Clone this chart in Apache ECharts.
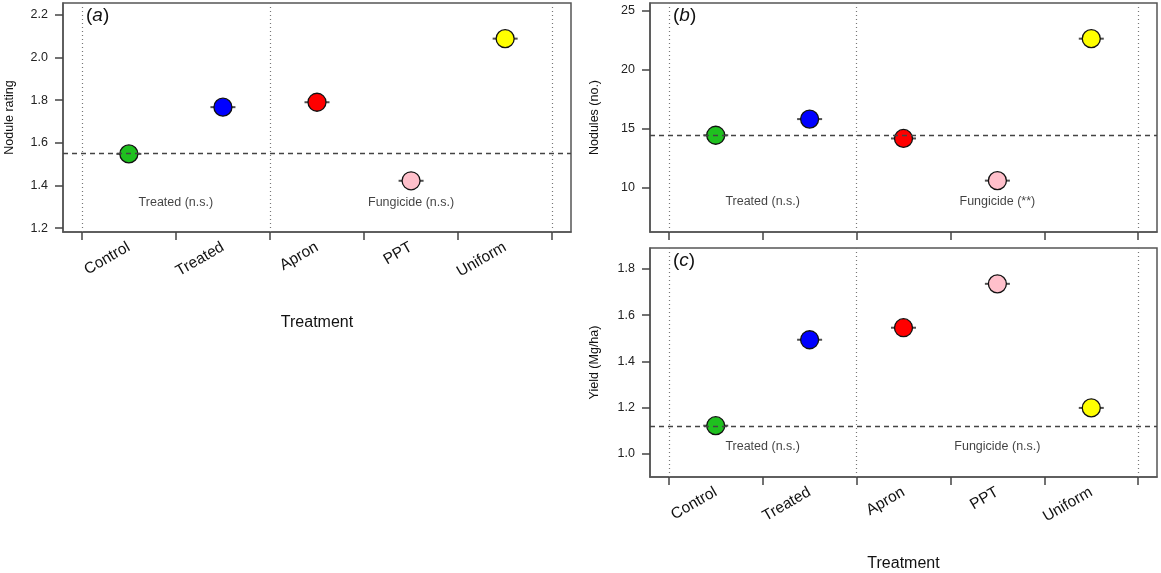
<!DOCTYPE html>
<html>
<head>
<meta charset="utf-8">
<script src="https://cdn.jsdelivr.net/npm/echarts@6/dist/echarts.min.js"></script>
<style>
html,body{margin:0;padding:0;background:#fff;}
#chart{width:1161px;height:573px;}
</style>
</head>
<body>
<div id="chart"></div>
<script>
// ---- data ----
var categories = ['Control', 'Treated', 'Apron', 'PPT', 'Uniform'];
var noduleRating = [1.548, 1.767, 1.790, 1.422, 2.088];
var noduleCount = [14.42, 15.79, 14.15, 10.58, 22.60];
var yieldMgHa = [1.122, 1.494, 1.546, 1.736, 1.199];
var ticksA = [1.2, 1.4, 1.6, 1.8, 2.0, 2.2];
var ticksB = [10, 15, 20, 25];
var ticksC = [1.0, 1.2, 1.4, 1.6, 1.8];
var notesA = ['Treated (n.s.)', 'Fungicide (n.s.)'];
var notesB = ['Treated (n.s.)', 'Fungicide (**)'];
var notesC = ['Treated (n.s.)', 'Fungicide (n.s.)'];
var pointColors = ['#1fc01f', '#0000ff', '#ff0000', '#ffc0cb', '#ffff00'];

var FONT = '"Liberation Sans", Arial, Helvetica, sans-serif';
var boundaryTicks = [0, 1, 2, 3, 4, 5];
var centers = categories.map(function (c, i) { return i + 0.5; });

function xAxisDef(gridIndex, showLabels) {
  return {
    type: 'value', gridIndex: gridIndex, min: -0.2, max: 5.2,
    axisLine: { show: true, onZero: false, lineStyle: { color: '#555', width: 1.5 } },
    axisTick: { show: true, customValues: boundaryTicks, length: 8, inside: false,
      lineStyle: { color: '#444', width: 1.5 } },
    axisLabel: { show: showLabels, customValues: centers, rotate: 30, margin: 14,
      fontSize: 15.5, color: '#111', fontFamily: FONT,
      formatter: function (v) { return categories[Math.round(v - 0.5)]; } },
    splitLine: { show: false },
    name: showLabels ? 'Treatment' : '', nameLocation: 'middle',
    nameGap: gridIndex === 0 ? 83 : 79,
    nameTextStyle: { fontSize: 16, color: '#111', fontFamily: FONT }
  };
}
function yAxisDef(gridIndex, min, max, ticks, name, gap, dec) {
  return {
    type: 'value', gridIndex: gridIndex, min: min, max: max,
    axisLine: { show: true, onZero: false, lineStyle: { color: '#555', width: 1.5 } },
    axisTick: { show: true, customValues: ticks, length: 8,
      lineStyle: { color: '#444', width: 1.5 } },
    axisLabel: { customValues: ticks, fontSize: 12.5, color: '#222', margin: 15, fontFamily: FONT,
      formatter: function (v) { return v.toFixed(dec); } },
    splitLine: { show: false },
    name: name, nameLocation: 'middle', nameRotate: 90, nameGap: gap,
    nameTextStyle: { fontSize: 12.5, color: '#111', fontFamily: FONT }
  };
}
function pointsSeries(idx, values) {
  return [{
    type: 'scatter', xAxisIndex: idx, yAxisIndex: idx, z: 3,
    symbol: 'rect', symbolSize: [25, 2], silent: true,
    itemStyle: { color: '#222' },
    data: values.map(function (v, i) { return [i + 0.5, v]; })
  }, {
    type: 'scatter', xAxisIndex: idx, yAxisIndex: idx, z: 4,
    symbol: 'circle', symbolSize: 18,
    itemStyle: { color: function (p) { return pointColors[p.dataIndex]; },
      borderColor: '#111', borderWidth: 1.3, opacity: 1 },
    data: values.map(function (v, i) { return [i + 0.5, v]; }),
    markLine: {
      silent: true, symbol: 'none', label: { show: false }, animation: false,
      data: [
        { xAxis: 0, lineStyle: { type: [1, 3], color: '#777', width: 1.2 } },
        { xAxis: 2, lineStyle: { type: [1, 3], color: '#777', width: 1.2 } },
        { xAxis: 5, lineStyle: { type: [1, 3], color: '#777', width: 1.2 } },
        { yAxis: values[0], lineStyle: { type: [5, 4], color: '#444', width: 1.4 } }
      ]
    }
  }];
}
function notesSeries(idx, notes, yv) {
  return {
    type: 'scatter', xAxisIndex: idx, yAxisIndex: idx, symbolSize: 0, silent: true,
    label: { show: true, position: 'inside', fontSize: 12.5, color: '#111', fontFamily: FONT,
      formatter: function (p) { return p.data[2]; } },
    data: [[1, yv, notes[0]], [3.5, yv, notes[1]]]
  };
}

var option = {
  animation: false,
  backgroundColor: '#fff',
  grid: [
    { left: 63, top: 3, width: 508, height: 229, show: true, borderColor: '#555', borderWidth: 1.5 },
    { left: 650, top: 3, width: 507, height: 229, show: true, borderColor: '#555', borderWidth: 1.5 },
    { left: 650, top: 248, width: 507, height: 229, show: true, borderColor: '#555', borderWidth: 1.5 }
  ],
  xAxis: [xAxisDef(0, true), xAxisDef(1, false), xAxisDef(2, true)],
  yAxis: [
    yAxisDef(0, 1.182, 2.255, ticksA, 'Nodule rating', 47, 1),
    yAxisDef(1, 6.23, 25.62, ticksB, 'Nodules (no.)', 49, 0),
    yAxisDef(2, 0.900, 1.891, ticksC, 'Yield (Mg/ha)', 49, 1)
  ],
  graphic: [
    { type: 'text', left: 86, top: 6, style: { rich: { i: { fontStyle: 'italic', fontSize: 19, fontFamily: FONT } },
      text: '({i|a})', fontSize: 19, fontFamily: FONT, fill: '#111' } },
    { type: 'text', left: 673, top: 6, style: { rich: { i: { fontStyle: 'italic', fontSize: 19, fontFamily: FONT } },
      text: '({i|b})', fontSize: 19, fontFamily: FONT, fill: '#111' } },
    { type: 'text', left: 673, top: 251, style: { rich: { i: { fontStyle: 'italic', fontSize: 19, fontFamily: FONT } },
      text: '({i|c})', fontSize: 19, fontFamily: FONT, fill: '#111' } }
  ],
  series: [].concat(
    pointsSeries(0, noduleRating), [notesSeries(0, notesA, 1.32)],
    pointsSeries(1, noduleCount), [notesSeries(1, notesB, 8.78)],
    pointsSeries(2, yieldMgHa), [notesSeries(2, notesC, 1.032)]
  )
};
var chart = echarts.init(document.getElementById('chart'));
chart.setOption(option);
</script>
</body>
</html>
